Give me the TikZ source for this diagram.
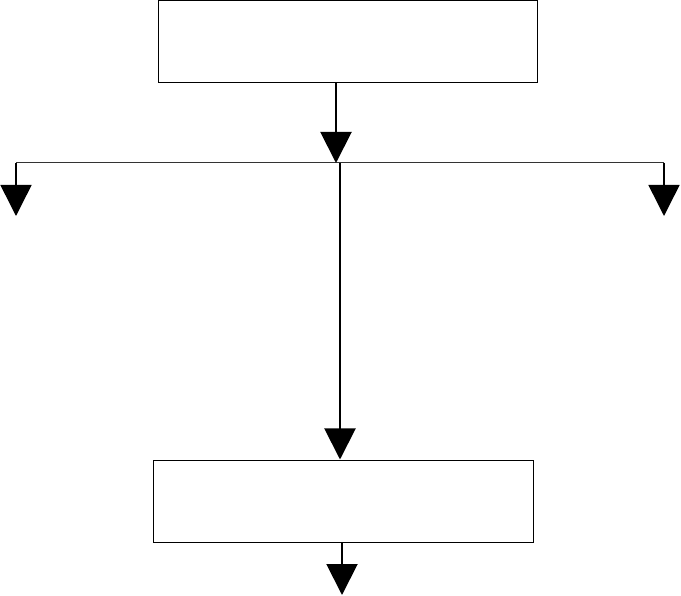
\documentclass[tikz,border=0pt]{standalone}
\usetikzlibrary{arrows.meta}
\begin{document}
\begin{tikzpicture}[x=1pt,y=-1pt,
  boxnode/.style={draw,line width=1pt,minimum width=379pt,minimum height=82pt,inner sep=0pt},
  flow/.style={line width=2pt,-{Triangle[length=31pt,width=31pt]}},
  branch/.style={line width=1pt,draw=black!80}]
\useasboundingbox (0,0) rectangle (681,596);
\node[boxnode] (top) at (347.5,42) {};
\node[boxnode,minimum width=380pt] (bot) at (343,501) {};
\coordinate (j) at (336,163);
\coordinate (jv) at (340,163);
\coordinate (l) at (16,163);
\coordinate (r) at (664,163);
\coordinate (lend) at (16,216);
\coordinate (rend) at (664,216);
\coordinate (bend) at (342,595);
\draw[branch] (l) -- (r);
\draw[flow] (top.south -| j) -- (j);
\draw[flow] (jv) -- (jv |- bot.north);
\draw[line width=1.5pt,-{Triangle[length=31pt,width=31pt]}] (l) -- (lend);
\draw[line width=1.5pt,-{Triangle[length=31pt,width=31pt]}] (r) -- (rend);
\draw[flow] (bot.south -| bend) -- (bend);
\end{tikzpicture}
\end{document}
